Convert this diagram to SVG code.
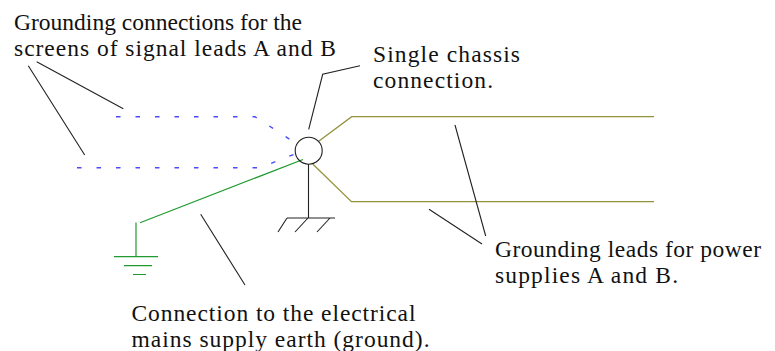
<svg xmlns="http://www.w3.org/2000/svg" width="775" height="351" viewBox="0 0 775 351">
<style>
text{font-family:"Liberation Serif","Times New Roman",serif;font-size:23.5px;fill:#111}
.k{fill:none;stroke:#222;stroke-width:1.1}
.o{fill:none;stroke:#94923a;stroke-width:1.3}
.g{fill:none;stroke:#1f9a2f;stroke-width:1.2}
.b{fill:none;stroke:#4a4aff;stroke-width:1.4;stroke-dasharray:4.5 15}
</style>
<rect width="775" height="351" fill="#fff"/>
<g id="connectors">
<path class="b" d="M116 116.7H255L297 144"/>
<path class="b" d="M77 167.7H260L300 152"/>
<path class="o" d="M318 141.7L351.7 116.7H654"/>
<path class="o" d="M312.7 164L351.5 201.7H654"/>
<path class="g" d="M303 159.5L140 222.7"/>
<path class="g" d="M136 222.5V256.7M114 256.7H158M124 265.7H152M133 274.5H146"/>
<path class="k" d="M308.5 164V218M287 218H335M287 218L278 232M308 218L295 232M330 218L317 232"/>
<path class="k" d="M36.7 61.7L123.3 108.7M28.3 65.7L84.7 155M360 65.7L322.7 74.3L308.7 129.3M455 125L485.7 236M429 209.3L482 244M200.7 214.3L245 285"/>
</g>
<g id="chassis"><circle class="k" cx="308.7" cy="150.7" r="13.5"/></g>
<g id="label-screens"><text x="14" y="30" textLength="288">Grounding connections for the</text><text x="14" y="56" textLength="322">screens of signal leads A and B</text></g>
<g id="label-chassis"><text x="373" y="62" textLength="147">Single chassis</text><text x="373" y="88" textLength="120">connection.</text></g>
<g id="label-power"><text x="495" y="256.5" textLength="266">Grounding leads for power</text><text x="495" y="283" textLength="183">supplies A and B.</text></g>
<g id="label-mains"><text x="131.5" y="320.5" textLength="284">Connection to the electrical</text><text x="131.5" y="346.5" textLength="298">mains supply earth (ground).</text></g>
</svg>
